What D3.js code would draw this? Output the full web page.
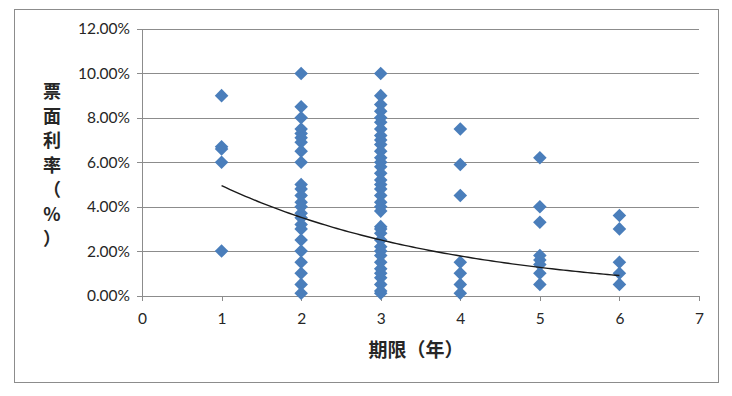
<!DOCTYPE html>
<html>
<head>
<meta charset="utf-8">
<script src="https://cdn.jsdelivr.net/npm/d3@7"></script>
<style>
  html, body { margin: 0; padding: 0; background: #fff; }
  svg { display: block; }
</style>
</head>
<body>
<svg id="chart" width="732" height="396"></svg>
<script>
// ---- data (term in years, coupon rate) ----
const terms = [1, 2, 3, 4, 5, 6];
const rates1 = [0.090, 0.067, 0.066, 0.060, 0.020];
const rates2 = [0.100, 0.085, 0.080, 0.075, 0.073, 0.071, 0.069, 0.065, 0.060,
                0.050, 0.048, 0.045, 0.042, 0.040, 0.037, 0.035, 0.032, 0.030,
                0.025, 0.020, 0.015, 0.010, 0.005, 0.001];
const rates3 = [0.100, 0.090, 0.086, 0.083, 0.080, 0.078, 0.075, 0.072, 0.070,
                0.068, 0.065, 0.062, 0.060, 0.058, 0.055, 0.052, 0.050, 0.048,
                0.045, 0.042, 0.040, 0.038, 0.031, 0.030, 0.028, 0.025, 0.022,
                0.020, 0.018, 0.015, 0.012, 0.010, 0.008, 0.005, 0.002, 0.001];
const rates4 = [0.075, 0.059, 0.045, 0.015, 0.010, 0.005, 0.001];
const rates5 = [0.062, 0.040, 0.033, 0.018, 0.016, 0.014, 0.010, 0.005];
const rates6 = [0.036, 0.030, 0.015, 0.010, 0.005];
const ratesByTerm = [rates1, rates2, rates3, rates4, rates5, rates6];
// exponential trendline y = a * exp(b * x)
const trendA = 0.0696;
const trendB = -0.341;
const xTicks = [0, 1, 2, 3, 4, 5, 6, 7];
const yTicks = [0, 0.02, 0.04, 0.06, 0.08, 0.10, 0.12];
const xTitle = "期限（年）";
const yTitleChars = ["票", "面", "利", "率", "（", "%", "）"];

// ---- drawing ----
const svg = d3.select("#chart");
const pLeft = 142, pRight = 699, pTop = 29, pBottom = 295.5;
const x = d3.scaleLinear().domain([0, 7]).range([pLeft, pRight]);
const y = d3.scaleLinear().domain([0, 0.12]).range([pBottom, pTop]);
const axisColor = "#8c8c8c";
const textFont = "Lato, 'Open Sans', sans-serif";

// outer frame
svg.append("rect").attr("x", 14.5).attr("y", 9.5).attr("width", 704).attr("height", 373)
  .attr("fill", "#fff").attr("stroke", axisColor).attr("stroke-width", 1);

// gridlines
svg.append("g")
  .attr("transform", `translate(${pLeft},0)`)
  .call(d3.axisLeft(y).tickValues(yTicks).tickSize(-(pRight - pLeft)).tickFormat(""))
  .call(g => g.select(".domain").remove())
  .call(g => g.selectAll("line").attr("stroke", axisColor).attr("stroke-width", 1)
      .attr("shape-rendering", "crispEdges"));

// y axis
const yAxis = svg.append("g")
  .attr("transform", `translate(${pLeft},0)`)
  .call(d3.axisLeft(y).tickValues(yTicks).tickSize(5).tickPadding(7)
      .tickFormat(d3.format(".2%")));
yAxis.select(".domain").attr("stroke", axisColor).attr("shape-rendering", "crispEdges");
yAxis.selectAll("line").attr("stroke", axisColor).attr("shape-rendering", "crispEdges");
yAxis.selectAll("text").attr("font-family", textFont).attr("font-size", 15.5).attr("fill", "#262626");

// x axis
const xAxis = svg.append("g")
  .attr("transform", `translate(0,${pBottom})`)
  .call(d3.axisBottom(x).tickValues(xTicks).tickSize(5).tickPadding(12)
      .tickFormat(d3.format("d")));
xAxis.select(".domain").attr("stroke", axisColor).attr("shape-rendering", "crispEdges");
xAxis.selectAll("line").attr("stroke", axisColor).attr("shape-rendering", "crispEdges");
xAxis.selectAll("text").attr("font-family", textFont).attr("font-size", 15.5).attr("fill", "#262626");

// points
const points = [];
terms.forEach((t, i) => ratesByTerm[i].forEach(r => points.push({ t, r })));
const diamond = d3.symbol().type(d3.symbolSquare).size(92)();
svg.append("g").selectAll("path")
  .data(points)
  .join("path")
  .attr("d", diamond)
  .attr("transform", d => `translate(${x(d.t)},${y(d.r)}) rotate(45)`)
  .attr("fill", "#4a7ebb");

// trendline
const trendX = d3.range(1, 6.0001, 0.05);
svg.append("path")
  .datum(trendX)
  .attr("d", d3.line().x(d => x(d)).y(d => y(trendA * Math.exp(trendB * d))))
  .attr("fill", "none").attr("stroke", "#1a1a1a").attr("stroke-width", 1.4);

// axis titles
svg.append("text")
  .attr("x", 416).attr("y", 357)
  .attr("text-anchor", "middle")
  .attr("font-family", "'Noto Sans CJK SC', sans-serif")
  .attr("font-weight", "bold").attr("font-size", 19).attr("fill", "#262626")
  .text(xTitle);

const yTitle = svg.append("g");
yTitle.selectAll("text")
  .data(yTitleChars)
  .join("text")
  .attr("x", 52)
  .attr("y", (d, i) => 98 + i * 24.5)
  .attr("text-anchor", "middle")
  .attr("font-family", "'Noto Sans CJK SC', sans-serif")
  .attr("font-weight", "bold").attr("font-size", 18).attr("fill", "#262626")
  .text(d => d);
</script>
</body>
</html>
